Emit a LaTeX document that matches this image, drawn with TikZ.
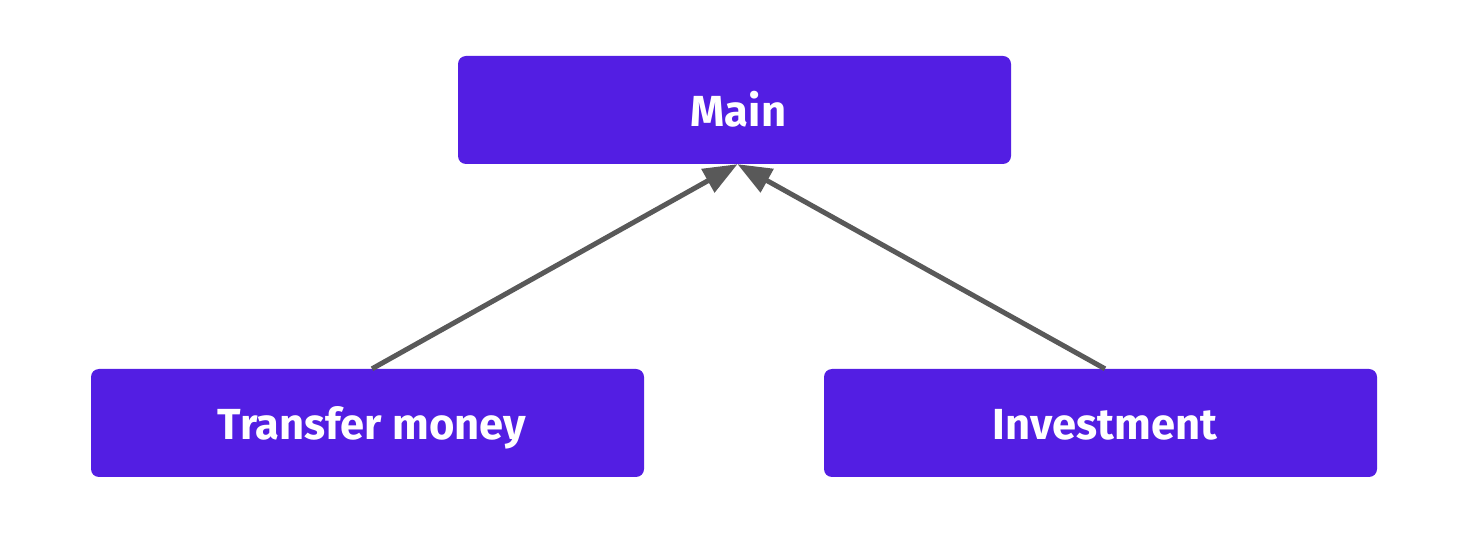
\documentclass[tikz,border=0pt]{standalone}
\usepackage{fontspec}
\setmainfont{Fira Sans}
\usetikzlibrary{arrows.meta}
\definecolor{boxc}{HTML}{531EE3}
\definecolor{arrc}{HTML}{595959}
\tikzset{
  box/.style={fill=boxc, rounded corners=8pt, minimum width=553pt, minimum height=108pt,
    inner sep=0pt},
  boxtext/.style={text=white, font=\fontsize{43.5}{52}\selectfont\bfseries, inner sep=0pt, anchor=base},
  conn/.style={draw=arrc, line width=5pt, -{Triangle[length=34pt,width=26pt]}}
}
\begin{document}
\begin{tikzpicture}[x=1pt,y=-1pt]
\useasboundingbox (0,0) rectangle (1460,534);
\node[box] (main) at (734.5,110) {};
\node[box] (tm) at (367.5,423) {};
\node[box] (inv) at (1100.5,423) {};
\node[boxtext] (mainT) at ([xshift=4pt,yshift=-16.5pt]main.center) {Main};
\node[boxtext] (tmT) at ([xshift=4.5pt,yshift=-16.5pt]tm.center) {Transfer money};
\node[boxtext] (invT) at ([xshift=4.5pt,yshift=-16.5pt]inv.center) {Investment};
\draw[conn] ([xshift=4.5pt]tm.north) -- ([xshift=3pt]main.south);
\draw[conn] ([xshift=4.5pt]inv.north) -- ([xshift=3pt]main.south);
\end{tikzpicture}
\end{document}
